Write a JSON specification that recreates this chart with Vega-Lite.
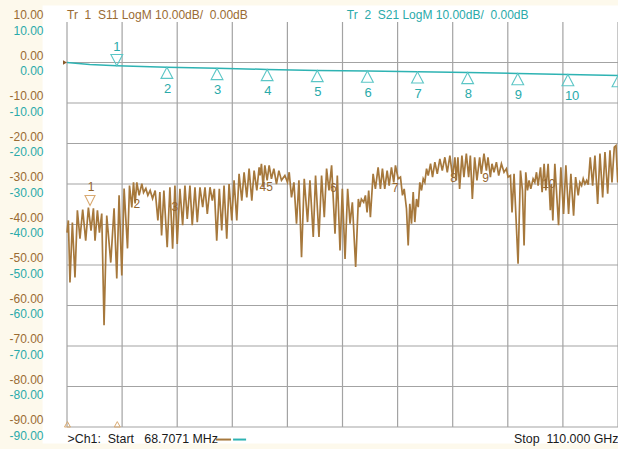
{
  "$schema": "https://vega.github.io/schema/vega-lite/v6.json",
  "width": 551,
  "height": 405,
  "autosize": "none",
  "padding": {"left": 67, "top": 22, "right": 0, "bottom": 22},
  "background": "#fdf9ec",
  "config": {"view": {"stroke": null, "fill": "#ffffff"}, "font": "Liberation Sans"},
  "datasets": {
    "one": [{"k": 1}],
    "gx": [{"v": 0.0687}, {"v": 11.0618}, {"v": 22.055}, {"v": 33.0481}, {"v": 44.0412}, {"v": 55.0344}, {"v": 66.0275}, {"v": 77.0206}, {"v": 88.0137}, {"v": 99.0069}, {"v": 110}],
    "gy": [{"v": 0}, {"v": -10}, {"v": -20}, {"v": -30}, {"v": -40}, {"v": -50}, {"v": -60}, {"v": -70}, {"v": -80}, {"v": -90}],
    "s21": [
      {"f": 0.0687, "db": 0}, {"f": 4.6, "db": -0.5}, {"f": 10, "db": -0.8}, {"f": 20, "db": -1.15}, {"f": 30, "db": -1.45},
      {"f": 40, "db": -1.7}, {"f": 50, "db": -1.95}, {"f": 60, "db": -2.1}, {"f": 70, "db": -2.3}, {"f": 80, "db": -2.45},
      {"f": 90, "db": -2.7}, {"f": 100, "db": -2.95}, {"f": 110, "db": -3.2}
    ],
    "m21": [
      {"n": "1", "f": 10, "db": -0.8, "dir": "down"}, {"n": "2", "f": 20, "db": -1.15, "dir": "up"}, {"n": "3", "f": 30, "db": -1.45, "dir": "up"},
      {"n": "4", "f": 40, "db": -1.7, "dir": "up"}, {"n": "5", "f": 50, "db": -1.95, "dir": "up"}, {"n": "6", "f": 60, "db": -2.1, "dir": "up"},
      {"n": "7", "f": 70, "db": -2.3, "dir": "up"}, {"n": "8", "f": 80, "db": -2.45, "dir": "up"}, {"n": "9", "f": 90, "db": -2.7, "dir": "up"},
      {"n": "10", "f": 100, "db": -2.95, "dir": "up"}, {"n": "11", "f": 110, "db": -3.2, "dir": "up"}
    ],
    "l11": [
      {"t": "1", "f": 4.86, "db": -30.8}, {"t": "2", "f": 14.0, "db": -34.9}, {"t": "3", "f": 21.6, "db": -35.6},
      {"t": "45", "f": 39.8, "db": -30.8}, {"t": "6", "f": 53.2, "db": -31.1}, {"t": "7", "f": 65.6, "db": -30.9},
      {"t": "8", "f": 77.2, "db": -28.4}, {"t": "9", "f": 83.6, "db": -28.4}, {"t": "10", "f": 96.2, "db": -29.9}
    ],
    "s11": [
      {"f":0.07,"db":-42.0},{"f":0.34,"db":-39.0},{"f":0.66,"db":-54.3},{"f":1.14,"db":-39.5},{"f":1.66,"db":-53.1},{"f":2.14,"db":-36.5},{"f":2.66,"db":-43.5},{"f":3.2,"db":-36.3},{"f":3.8,"db":-44.0},{"f":4.34,"db":-35.8},{"f":4.86,"db":-41.5},{"f":5.34,"db":-36.0},{"f":5.66,"db":-44.0},{"f":6.14,"db":-36.5},{"f":6.54,"db":-42.0},{"f":7.0,"db":-37.3},{"f":7.46,"db":-64.9},{"f":8.0,"db":-37.8},{"f":8.8,"db":-49.4},{"f":9.46,"db":-36.0},{"f":10.0,"db":-53.3},{"f":10.46,"db":-32.8},{"f":11.0,"db":-52.6},{"f":11.46,"db":-31.1},{"f":12.14,"db":-45.9},{"f":12.54,"db":-30.4},{"f":13.0,"db":-35.8},{"f":13.34,"db":-29.6},{"f":13.66,"db":-34.8},{"f":14.0,"db":-29.6},{"f":14.46,"db":-32.8},{"f":15.0,"db":-29.9},{"f":15.34,"db":-32.1},{"f":15.8,"db":-31.1},{"f":16.2,"db":-32.8},{"f":16.66,"db":-31.6},{"f":17.14,"db":-33.6},{"f":17.66,"db":-31.6},{"f":18.2,"db":-39.0},
      {"f":18.6,"db":-32.0},{"f":18.94,"db":-42.7},{"f":19.4,"db":-31.6},{"f":20.06,"db":-45.6},{"f":20.6,"db":-30.8},{"f":21.14,"db":-46.0},{"f":21.6,"db":-30.4},{"f":22.06,"db":-44.8},{"f":22.6,"db":-31.2},{"f":23.14,"db":-40.2},{"f":23.6,"db":-30.4},{"f":24.06,"db":-38.6},{"f":24.6,"db":-30.4},{"f":25.06,"db":-40.2},{"f":25.6,"db":-30.8},{"f":26.06,"db":-39.4},{"f":26.6,"db":-30.8},{"f":27.14,"db":-35.7},{"f":27.6,"db":-30.8},{"f":28.06,"db":-37.4},{"f":28.6,"db":-30.8},{"f":29.06,"db":-34.1},{"f":29.46,"db":-31.2},{"f":29.94,"db":-44.0},{"f":30.46,"db":-31.2},{"f":30.94,"db":-41.5},{"f":31.4,"db":-30.4},{"f":31.94,"db":-43.5},{"f":32.4,"db":-30.0},{"f":32.94,"db":-39.0},{"f":33.4,"db":-29.1},{"f":33.94,"db":-39.0},{"f":34.4,"db":-27.5},{"f":34.94,"db":-34.1},{"f":35.4,"db":-27.1},{"f":35.94,"db":-33.3},{"f":36.4,"db":-26.2},{"f":36.94,"db":-34.1},{"f":37.4,"db":-26.7},{"f":37.94,"db":-31.6},{"f":38.4,"db":-25.9},
      {"f":38.6,"db":-27.9},{"f":38.86,"db":-25.0},{"f":39.2,"db":-30.8},{"f":39.54,"db":-25.4},{"f":40.0,"db":-29.1},{"f":40.4,"db":-25.4},{"f":40.86,"db":-28.7},{"f":41.34,"db":-26.2},{"f":41.86,"db":-30.0},{"f":42.34,"db":-26.7},{"f":42.86,"db":-29.1},{"f":43.54,"db":-27.9},{"f":44.06,"db":-29.6},{"f":44.4,"db":-27.1},{"f":44.86,"db":-33.3},{"f":45.34,"db":-29.6},{"f":45.86,"db":-39.8},{"f":46.34,"db":-29.1},{"f":46.86,"db":-48.1},{"f":47.4,"db":-28.7},{"f":48.06,"db":-39.4},{"f":48.54,"db":-29.1},{"f":49.2,"db":-43.1},{"f":49.66,"db":-27.9},{"f":50.34,"db":-43.1},{"f":50.86,"db":-27.9},{"f":51.4,"db":-38.2},{"f":51.86,"db":-26.2},{"f":52.34,"db":-31.6},{"f":52.86,"db":-25.4},{"f":53.54,"db":-42.3},{"f":54.0,"db":-27.9},{"f":54.54,"db":-46.4},{"f":55.0,"db":-31.2},{"f":55.54,"db":-48.5},{"f":56.06,"db":-31.2},{"f":56.54,"db":-39.8},{"f":57.0,"db":-34.5},{"f":57.66,"db":-50.5},{"f":58.2,"db":-33.7},
      {"f":58.46,"db":-35.7},{"f":58.8,"db":-33.7},{"f":59.26,"db":-34.5},{"f":59.6,"db":-32.8},{"f":59.94,"db":-37.0},{"f":60.26,"db":-31.6},{"f":60.6,"db":-38.2},{"f":61.14,"db":-27.5},{"f":61.6,"db":-31.2},{"f":62.14,"db":-25.9},{"f":62.6,"db":-31.2},{"f":63.0,"db":-26.2},{"f":63.46,"db":-31.2},{"f":63.94,"db":-26.7},{"f":64.34,"db":-30.4},{"f":64.8,"db":-25.9},{"f":65.26,"db":-29.6},{"f":65.6,"db":-25.4},{"f":66.14,"db":-28.7},{"f":66.6,"db":-28.3},{"f":67.0,"db":-32.8},{"f":67.34,"db":-31.2},{"f":67.8,"db":-36.1},{"f":68.14,"db":-45.2},{"f":68.46,"db":-34.9},{"f":68.8,"db":-39.8},{"f":69.14,"db":-32.0},{"f":69.46,"db":-39.4},{"f":69.8,"db":-33.7},{"f":70.14,"db":-35.7},{"f":70.46,"db":-29.6},{"f":70.8,"db":-31.6},{"f":71.14,"db":-28.7},{"f":71.46,"db":-29.6},{"f":71.8,"db":-26.2},{"f":72.14,"db":-27.9},{"f":72.6,"db":-25.0},{"f":73.0,"db":-28.3},{"f":73.46,"db":-24.6},{"f":73.94,"db":-27.5},{"f":74.46,"db":-23.8},{"f":74.94,"db":-26.7},{"f":75.46,"db":-23.4},{"f":75.94,"db":-27.1},{"f":76.46,"db":-23.0},{"f":77.0,"db":-28.3},{"f":77.46,"db":-23.4},
      {"f":77.74,"db":-29.1},{"f":78.06,"db":-23.4},{"f":78.4,"db":-31.2},{"f":78.86,"db":-23.0},{"f":79.26,"db":-28.3},{"f":79.74,"db":-22.5},{"f":80.2,"db":-28.3},{"f":80.54,"db":-23.0},{"f":80.94,"db":-33.7},{"f":81.4,"db":-23.4},{"f":81.86,"db":-29.1},{"f":82.4,"db":-23.4},{"f":82.74,"db":-27.5},{"f":83.26,"db":-22.5},{"f":83.74,"db":-26.7},{"f":84.06,"db":-23.4},{"f":84.54,"db":-28.3},{"f":84.86,"db":-25.0},{"f":85.26,"db":-27.1},{"f":85.74,"db":-24.6},{"f":86.2,"db":-27.9},{"f":86.74,"db":-25.0},{"f":87.26,"db":-27.1},{"f":87.74,"db":-26.2},{"f":88.06,"db":-28.3},{"f":88.54,"db":-27.9},{"f":88.86,"db":-37.0},{"f":89.26,"db":-27.5},{"f":90.06,"db":-49.7},{"f":90.54,"db":-26.7},{"f":90.94,"db":-31.6},{"f":91.26,"db":-45.2},{"f":91.6,"db":-27.1},{"f":91.94,"db":-31.6},{"f":92.26,"db":-29.1},{"f":92.6,"db":-31.2},{"f":93.06,"db":-28.7},{"f":93.4,"db":-29.6},{"f":93.74,"db":-27.1},{"f":94.06,"db":-30.4},{"f":94.54,"db":-25.9},{"f":94.86,"db":-32.0},
      {"f":95.26,"db":-25.0},{"f":95.6,"db":-31.6},{"f":96.06,"db":-25.0},{"f":96.5,"db":-36.5},{"f":96.7,"db":-30.0},{"f":97.0,"db":-39.0},{"f":97.4,"db":-25.0},{"f":98.14,"db":-40.2},{"f":98.6,"db":-25.9},{"f":99.14,"db":-37.4},{"f":99.6,"db":-25.4},{"f":100.14,"db":-37.4},{"f":100.6,"db":-27.5},{"f":101.14,"db":-37.8},{"f":101.54,"db":-28.3},{"f":102.06,"db":-32.8},{"f":102.4,"db":-29.6},{"f":102.74,"db":-30.4},{"f":103.06,"db":-28.7},{"f":103.4,"db":-30.0},{"f":103.74,"db":-29.1},{"f":104.06,"db":-30.2},{"f":104.46,"db":-23.4},{"f":104.94,"db":-30.4},{"f":105.4,"db":-23.0},{"f":105.94,"db":-34.9},{"f":106.4,"db":-22.5},{"f":106.94,"db":-33.3},{"f":107.4,"db":-22.1},{"f":107.94,"db":-32.4},{"f":108.4,"db":-21.7},{"f":108.8,"db":-29.6},{"f":109.26,"db":-20.9},{"f":109.6,"db":-20.5},{"f":109.94,"db":-29.6},{"f":110,"db":-26.0}
    ]
  },
  "resolve": {"axis": {"x": "independent", "y": "independent"}},
  "layer": [
    {
      "data": {"name": "one"},
      "mark": {"type": "rect", "fill": "#ffffff", "opacity": 1},
      "encoding": {
        "x": {"datum": -4.8, "type": "quantitative", "scale": {"domain": [0.0687, 110], "nice": false, "zero": false}, "axis": null},
        "x2": {"datum": 112},
        "y": {"datum": 14.07, "type": "quantitative", "scale": {"domain": [-90, 10], "nice": false, "zero": false}, "axis": null},
        "y2": {"datum": -94.07}
      }
    },
    {
      "data": {"name": "gy"},
      "mark": {"type": "rule", "stroke": "#a3a3a3", "strokeWidth": 1.2},
      "encoding": {
        "y": {"field": "v", "type": "quantitative", "scale": {"domain": [-90, 10], "nice": false, "zero": false}, "axis": null}
      }
    },
    {
      "data": {"name": "gx"},
      "mark": {"type": "rule", "stroke": "#a3a3a3", "strokeWidth": 1.2},
      "encoding": {
        "x": {"field": "v", "type": "quantitative", "scale": {"domain": [0.0687, 110], "nice": false, "zero": false}, "axis": null}
      }
    },
    {
      "data": {"name": "s11"},
      "mark": {"type": "line", "stroke": "#a6783c", "strokeWidth": 1.7},
      "encoding": {
        "x": {"field": "f", "type": "quantitative", "scale": {"domain": [0.0687, 110], "nice": false, "zero": false},
          "axis": {"orient": "bottom", "zindex": 2, "values": [0.0687, 11.0618, 22.055, 33.0481, 44.0412, 55.0344, 66.0275, 77.0206, 88.0137, 99.0069, 110],
            "labelExpr": "datum.value < 1 ? '>Ch1:\u00a0\u00a0Start\u00a0\u00a0\u00a068.7071 MHz' : (datum.value > 109 ? 'Stop\u00a0\u00a0110.000 GHz' : '')",
            "labelFlush": true, "labelOverlap": false, "labelColor": "#1a1a1a", "labelFont": "Liberation Sans", "labelFontSize": 12.4,
            "labelPadding": 5, "ticks": false, "tickSize": 0, "domain": false, "grid": false, "title": null}},
        "y": {"field": "db", "type": "quantitative", "scale": {"domain": [-90, 10], "nice": false, "zero": false},
          "axis": {"orient": "left", "zindex": 2, "values": [10, 0, -10, -20, -30, -40, -50, -60, -70, -80, -90],
            "labelExpr": "(datum.value < 0 ? '-' : '') + format(abs(datum.value), '.2f')",
            "labelColor": "#9a6b33", "labelFont": "Liberation Sans", "labelFontSize": 12, "labelOffset": -7.5, "labelPadding": 24,
            "labelFlush": false, "labelOverlap": false, "ticks": false, "tickSize": 0, "domain": false, "grid": false, "title": null}}
      }
    },
    {
      "data": {"name": "s21"},
      "mark": {"type": "line", "stroke": "#2eb3b3", "strokeWidth": 1.5},
      "encoding": {
        "x": {"field": "f", "type": "quantitative", "scale": {"domain": [0.0687, 110], "nice": false, "zero": false}, "axis": null},
        "y": {"field": "db", "type": "quantitative", "scale": {"domain": [-90, 10], "nice": false, "zero": false},
          "axis": {"orient": "left", "zindex": 2, "values": [10, 0, -10, -20, -30, -40, -50, -60, -70, -80, -90],
            "labelExpr": "(datum.value < 0 ? '-' : '') + format(abs(datum.value), '.2f')",
            "labelColor": "#2aaaaa", "labelFont": "Liberation Sans", "labelFontSize": 12, "labelOffset": 8, "labelPadding": 24,
            "labelFlush": false, "labelOverlap": false, "ticks": false, "tickSize": 0, "domain": false, "grid": false, "title": null}}
      }
    },
    {
      "data": {"name": "m21"},
      "mark": {"type": "point", "filled": false, "stroke": "#5cc6c6", "strokeWidth": 1.1, "size": 140, "opacity": 1},
      "encoding": {
        "x": {"field": "f", "type": "quantitative", "scale": {"domain": [0.0687, 110], "nice": false, "zero": false}, "axis": null},
        "y": {"field": "db", "type": "quantitative", "scale": {"domain": [-90, 10], "nice": false, "zero": false}, "axis": null},
        "shape": {"field": "dir", "type": "nominal", "scale": {"domain": ["up", "down"], "range": ["M0,0L-1,1.9L1,1.9Z", "M0,0L-1,-1.9L1,-1.9Z"]}, "legend": null}
      }
    },
    {
      "data": {"name": "m21"},
      "transform": [{"filter": "datum.dir == 'up' && datum.f < 105"}],
      "mark": {"type": "text", "align": "left", "baseline": "middle", "dx": -3, "dy": 22, "fontSize": 13, "color": "#2aaaaa"},
      "encoding": {
        "x": {"field": "f", "type": "quantitative", "scale": {"domain": [0.0687, 110], "nice": false, "zero": false}, "axis": null},
        "y": {"field": "db", "type": "quantitative", "scale": {"domain": [-90, 10], "nice": false, "zero": false}, "axis": null},
        "text": {"field": "n"}
      }
    },
    {
      "data": {"name": "m21"},
      "transform": [{"filter": "datum.dir == 'down'"}],
      "mark": {"type": "text", "align": "center", "baseline": "middle", "dy": -19, "fontSize": 13, "color": "#2aaaaa"},
      "encoding": {
        "x": {"field": "f", "type": "quantitative", "scale": {"domain": [0.0687, 110], "nice": false, "zero": false}, "axis": null},
        "y": {"field": "db", "type": "quantitative", "scale": {"domain": [-90, 10], "nice": false, "zero": false}, "axis": null},
        "text": {"field": "n"}
      }
    },
    {
      "data": {"name": "one"},
      "mark": {"type": "point", "shape": "M0,0L-1,-2L1,-2Z", "filled": false, "stroke": "#d9aa72", "strokeWidth": 1.1, "size": 100, "opacity": 1},
      "encoding": {
        "x": {"datum": 4.66, "type": "quantitative", "scale": {"domain": [0.0687, 110], "nice": false, "zero": false}, "axis": null},
        "y": {"datum": -35.3, "type": "quantitative", "scale": {"domain": [-90, 10], "nice": false, "zero": false}, "axis": null}
      }
    },
    {
      "data": {"name": "l11"},
      "mark": {"type": "text", "align": "center", "baseline": "middle", "fontSize": 12, "color": "#94652f"},
      "encoding": {
        "x": {"field": "f", "type": "quantitative", "scale": {"domain": [0.0687, 110], "nice": false, "zero": false}, "axis": null},
        "y": {"field": "db", "type": "quantitative", "scale": {"domain": [-90, 10], "nice": false, "zero": false}, "axis": null},
        "text": {"field": "t"}
      }
    },
    {
      "data": {"name": "one"},
      "mark": {"type": "point", "shape": "M0,0L-1.8,-1L-1.8,1Z", "filled": true, "fill": "#8b5a2b", "size": 20, "opacity": 1},
      "encoding": {
        "x": {"datum": 0.0687, "type": "quantitative", "scale": {"domain": [0.0687, 110], "nice": false, "zero": false}, "axis": null},
        "y": {"datum": 0, "type": "quantitative", "scale": {"domain": [-90, 10], "nice": false, "zero": false}, "axis": null}
      }
    },
    {
      "data": {"name": "one"},
      "mark": {"type": "point", "shape": "M0,-1.8L-1,0L1,0Z", "filled": false, "stroke": "#d9aa72", "strokeWidth": 1, "size": 36, "opacity": 1},
      "encoding": {
        "x": {"datum": 0.16, "type": "quantitative", "scale": {"domain": [0.0687, 110], "nice": false, "zero": false}, "axis": null},
        "y": {"datum": -90, "type": "quantitative", "scale": {"domain": [-90, 10], "nice": false, "zero": false}, "axis": null}
      }
    },
    {
      "data": {"name": "one"},
      "mark": {"type": "point", "shape": "M0,-1.8L-1,0L1,0Z", "filled": false, "stroke": "#d9aa72", "strokeWidth": 1, "size": 36, "opacity": 1},
      "encoding": {
        "x": {"datum": 10.1, "type": "quantitative", "scale": {"domain": [0.0687, 110], "nice": false, "zero": false}, "axis": null},
        "y": {"datum": -90, "type": "quantitative", "scale": {"domain": [-90, 10], "nice": false, "zero": false}, "axis": null}
      }
    },
    {
      "data": {"name": "one"},
      "mark": {"type": "text", "align": "left", "baseline": "middle", "fontSize": 12, "color": "#9a6b33", "text": "Tr\u00a0\u00a01\u00a0\u00a0S11 LogM 10.00dB/\u00a0\u00a00.00dB"},
      "encoding": {
        "x": {"datum": 0.0687, "type": "quantitative", "scale": {"domain": [0.0687, 110], "nice": false, "zero": false}, "axis": null},
        "y": {"datum": 11.85, "type": "quantitative", "scale": {"domain": [-90, 10], "nice": false, "zero": false}, "axis": null}
      }
    },
    {
      "data": {"name": "one"},
      "mark": {"type": "text", "align": "left", "baseline": "middle", "fontSize": 12, "color": "#2aaaaa", "text": "Tr\u00a0\u00a02\u00a0\u00a0S21 LogM 10.00dB/\u00a0\u00a00.00dB"},
      "encoding": {
        "x": {"datum": 55.9, "type": "quantitative", "scale": {"domain": [0.0687, 110], "nice": false, "zero": false}, "axis": null},
        "y": {"datum": 11.85, "type": "quantitative", "scale": {"domain": [-90, 10], "nice": false, "zero": false}, "axis": null}
      }
    },
    {
      "data": {"name": "one"},
      "mark": {"type": "rule", "stroke": "#a6783c", "strokeWidth": 2},
      "encoding": {
        "x": {"datum": 29.8, "type": "quantitative", "scale": {"domain": [0.0687, 110], "nice": false, "zero": false}, "axis": null},
        "x2": {"datum": 32.8},
        "y": {"datum": -93.1, "type": "quantitative", "scale": {"domain": [-90, 10], "nice": false, "zero": false}, "axis": null}
      }
    },
    {
      "data": {"name": "one"},
      "mark": {"type": "rule", "stroke": "#2eb3b3", "strokeWidth": 2},
      "encoding": {
        "x": {"datum": 33.2, "type": "quantitative", "scale": {"domain": [0.0687, 110], "nice": false, "zero": false}, "axis": null},
        "x2": {"datum": 35.8},
        "y": {"datum": -93.1, "type": "quantitative", "scale": {"domain": [-90, 10], "nice": false, "zero": false}, "axis": null}
      }
    }
  ]
}
